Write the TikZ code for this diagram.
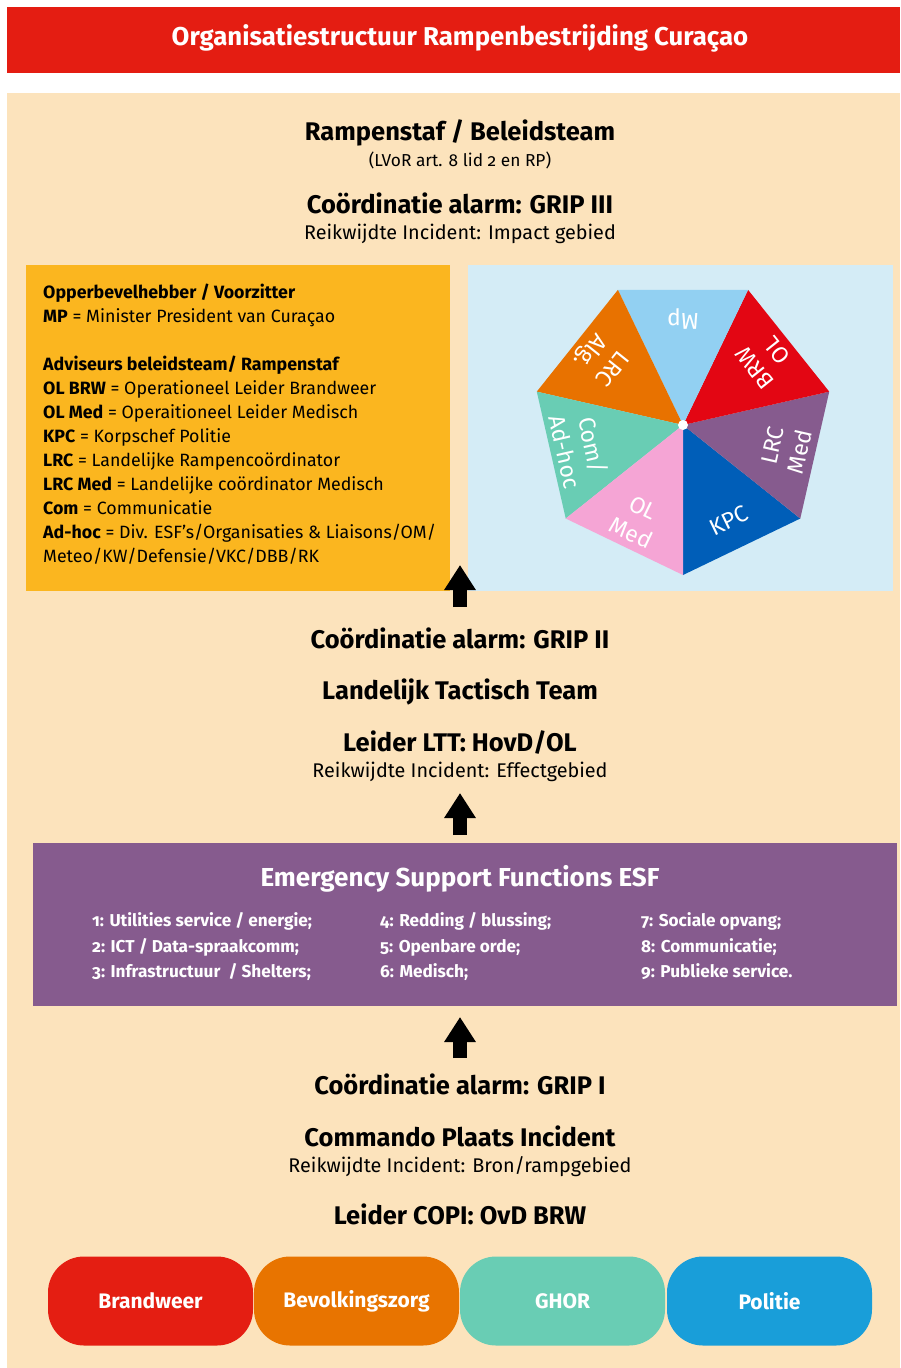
\documentclass[tikz,border=0pt]{standalone}
\usepackage{fontspec}
\setmainfont[Numbers=OldStyle]{Fira Sans}
\usetikzlibrary{arrows.meta}
\definecolor{barred}{RGB}{228,29,18}
\definecolor{sand}{RGB}{252,227,188}
\definecolor{gold}{RGB}{251,182,31}
\definecolor{paleblue}{RGB}{212,236,246}
\definecolor{esfviolet}{RGB}{134,91,142}
\definecolor{kpc}{RGB}{0,94,184}
\definecolor{lrcmed}{RGB}{134,91,142}
\definecolor{olbrw}{RGB}{227,6,19}
\definecolor{mp}{RGB}{146,208,242}
\definecolor{lrcalg}{RGB}{232,114,0}
\definecolor{com}{RGB}{105,205,180}
\definecolor{olmed}{RGB}{245,165,213}
\definecolor{brwred}{RGB}{228,30,18}
\definecolor{bvzorange}{RGB}{232,116,0}
\definecolor{ghorgreen}{RGB}{105,205,180}
\definecolor{polblue}{RGB}{25,158,217}
\tikzset{
  heading/.style={anchor=base, inner sep=0pt, font=\bfseries\fontsize{25.5}{28}\selectfont},
  subline/.style={anchor=base, inner sep=0pt, font=\fontsize{19.8}{22}\selectfont},
  legend/.style={anchor=base west, inner sep=0pt, font=\fontsize{17.8}{20}\selectfont},
  esfitem/.style={anchor=base west, inner sep=0pt, text=white, font=\bfseries\fontsize{17.2}{20}\selectfont},
  sector/.style={text=white, align=center, inner sep=0pt, font=\fontsize{23}{28}\selectfont},
  unit/.style={fill=#1, rounded corners=36pt, minimum width=205pt, minimum height=89pt,
    inner sep=0pt, text=white, font=\bfseries\fontsize{21}{24}\selectfont},
  blockarrow/.style={line width=14pt, -{Triangle[width=30pt,length=25pt]}}
}
\begin{document}
\begin{tikzpicture}[x=1pt, y=-1pt]
\useasboundingbox (0,0) rectangle (900,1368);
\fill[barred] (7,7) rectangle (900,73);
\node[text=white, font=\bfseries\fontsize{25.8}{28}\selectfont] (title) at (460,38) {Organisatiestructuur Rampenbestrijding Curaçao};
\fill[sand] (7,93) rectangle (900,1368);

\node[heading] (staf) at (460,140) {Rampenstaf / Beleidsteam};
\node[subline, font=\fontsize{17.3}{20}\selectfont] (lvor) at (460,166) {(LVoR art. 8 lid 2 en RP)};
\node[heading] (grip3) at (460,213) {Coördinatie alarm: GRIP III};
\node[subline] (reik3) at (460,239) {Reikwijdte Incident: Impact gebied};

\fill[gold] (26,265) rectangle (450,591);
\foreach \txt [count=\i] in {
  {\textbf{Opperbevelhebber / Voorzitter}},
  {\textbf{MP} = Minister President van Curaçao},
  {},
  {\textbf{Adviseurs beleidsteam/ Rampenstaf}},
  {\textbf{OL BRW} = Operationeel Leider Brandweer},
  {\textbf{OL Med} = Operaitioneel Leider Medisch},
  {\textbf{KPC} = Korpschef Politie},
  {\textbf{LRC} = Landelijke Rampencoördinator},
  {\textbf{LRC Med} = Landelijke coördinator Medisch},
  {\textbf{Com} = Communicatie},
  {\textbf{Ad-hoc} = Div. ESF’s/Organisaties \& Liaisons/OM/},
  {Meteo/KW/Defensie/VKC/DBB/RK}}
  \node[legend] (leg\i) at (43,274+24*\i) {\txt};

\fill[paleblue] (468,265) rectangle (893,591);
\coordinate (hub) at (683,425);
\foreach \lab/\col [count=\i from 0] in {KPC/kpc, LRC\\Med/lrcmed, BRW\\OL/olbrw, Mp/mp,
    LRC\\Alg./lrcalg, {Com/\\Ad-hoc}/com, OL\\Med/olmed}
{
  \pgfmathsetmacro\pa{90-\i*360/7}
  \pgfmathsetmacro\pb{\pa-360/7}
  \pgfmathsetmacro\pm{\pa-180/7}
  \fill[\col] (hub) -- ([shift={(\pa:150)}]hub) -- ([shift={(\pb:150)}]hub) -- cycle;
  \node[sector, rotate=90-\pm] (sec\i) at ([shift={(\pm:106)}]hub) {\lab};
}
\fill[white] (hub) circle (5pt);

\coordinate (a1s) at (460,607);
\coordinate (a1t) at (460,565);
\draw[blockarrow] (a1s) -- (a1t);

\node[heading] (grip2) at (460,648) {Coördinatie alarm: GRIP II};
\node[heading] (ltt) at (460,699) {Landelijk Tactisch Team};
\node[heading] (leidltt) at (460,751) {Leider LTT: HovD/OL};
\node[subline] (reik2) at (460,777) {Reikwijdte Incident: Effectgebied};

\coordinate (a2s) at (460,835);
\coordinate (a2t) at (460,793);
\draw[blockarrow] (a2s) -- (a2t);

\fill[esfviolet] (33,843) rectangle (897,1006);
\node[heading, text=white, font=\bfseries\fontsize{26}{28}\selectfont] (esf) at (460,886) {Emergency Support Functions ESF};
\foreach \y/\a/\b/\c [count=\r] in {
  926/{1: Utilities service / energie;}/{4: Redding / blussing;}/{7: Sociale opvang;},
  952/{2: ICT / Data-spraakcomm;}/{5: Openbare orde;}/{8: Communicatie;},
  977/{3: Infrastructuur~~/ Shelters;}/{6: Medisch;}/{9: Publieke service.}}
{
  \node[esfitem] (esf\r a) at (92,\y) {\a};
  \node[esfitem] (esf\r b) at (380,\y) {\b};
  \node[esfitem] (esf\r c) at (641,\y) {\c};
}

\coordinate (a3s) at (460,1058);
\coordinate (a3t) at (460,1017);
\draw[blockarrow] (a3s) -- (a3t);

\node[heading] (grip1) at (460,1094) {Coördinatie alarm: GRIP I};
\node[heading] (copi) at (460,1146) {Commando Plaats Incident};
\node[subline] (reik1) at (460,1172) {Reikwijdte Incident: Bron/rampgebied};
\node[heading] (leidcopi) at (460,1224) {Leider COPI: OvD BRW};

\node[unit=brwred] (brw) at (150.5,1301) {Brandweer};
\node[unit=bvzorange] (bvz) at (356.5,1301) {Bevolkingszorg};
\node[unit=ghorgreen] (ghor) at (562.5,1301) {GHOR};
\node[unit=polblue] (pol) at (769.5,1301) {Politie};
\end{tikzpicture}
\end{document}
